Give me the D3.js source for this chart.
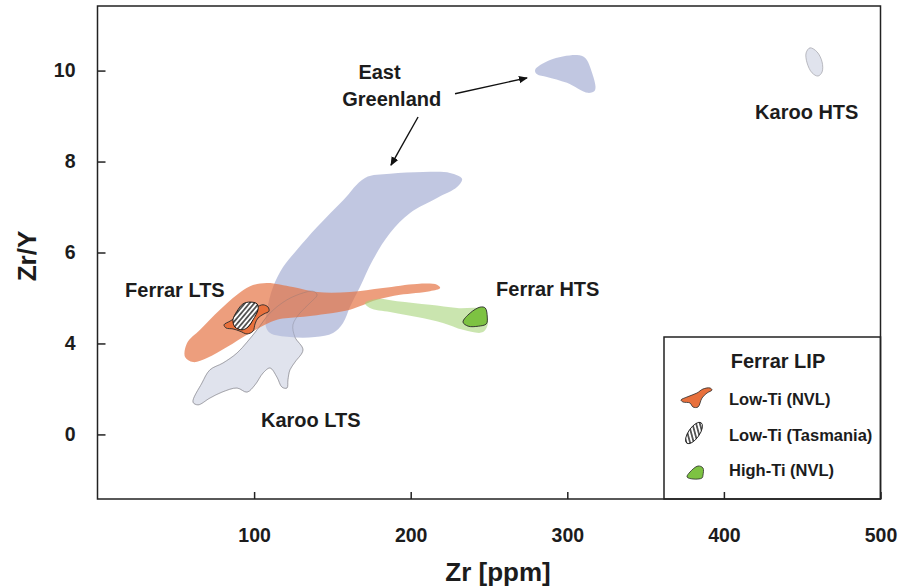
<!DOCTYPE html>
<html>
<head>
<meta charset="utf-8">
<script src="https://cdn.jsdelivr.net/npm/d3@7/dist/d3.min.js"></script>
<style>
  html, body { margin: 0; padding: 0; background: #fff; }
  svg { display: block; font-family: "Liberation Sans", Arial, Helvetica, sans-serif; }
</style>
</head>
<body>
<svg id="chart" width="898" height="588"></svg>
<script>
// Axis ticks
const xTicks = [100, 200, 300, 400, 500];
const yTicks = [2, 4, 6, 8, 10];
const yTickLabels = ["0", "4", "6", "8", "10"];

// Compositional fields, outlines as [Zr (ppm), Zr/Y]
const eastGreenlandMain = [
  [170.8, 7.64], [186.8, 7.73], [207.9, 7.77], [225.1, 7.75], [232.8, 7.62],
  [229.6, 7.44], [216.8, 7.20], [199.6, 6.87], [186.8, 6.43], [175.9, 5.84],
  [167.6, 5.24], [161.2, 4.80], [156.8, 4.45], [150.4, 4.23], [138.9, 4.14],
  [122.9, 4.14], [110.2, 4.23], [107.6, 4.36], [108.3, 4.74], [112.1, 5.24],
  [118.5, 5.68], [127.4, 6.06], [140.2, 6.56], [156.9, 7.15]
];
const eastGreenlandHigh = [
  [279.4, 10.01], [289.0, 10.23], [306.2, 10.34], [311.3, 10.28], [315.8, 9.95],
  [317.7, 9.57], [313.2, 9.51], [299.8, 9.73], [287.0, 9.86], [280.7, 9.92]
];
const karooHTS = [
  [455.0, 10.50], [459.5, 10.41], [462.7, 10.19], [462.7, 9.97], [460.1, 9.88],
  [456.3, 9.95], [453.1, 10.17], [452.5, 10.39]
];
const karooLTS = [
  [61.0, 2.71], [66.7, 3.13], [71.8, 3.42], [80.1, 3.57], [89.1, 3.79],
  [95.5, 4.03], [101.9, 4.30], [110.2, 4.67], [121.0, 4.96], [131.2, 5.11],
  [137.6, 5.15], [140.2, 5.07], [135.7, 4.89], [129.3, 4.67], [124.8, 4.41],
  [126.1, 4.14], [131.2, 3.86], [126.1, 3.59], [122.9, 3.42], [121.6, 3.20],
  [121.0, 3.02], [117.8, 3.04], [114.6, 3.26], [110.2, 3.46], [105.7, 3.35],
  [100.6, 3.09], [95.5, 2.93], [89.1, 3.02], [79.5, 2.93], [71.8, 2.80],
  [64.2, 2.65]
];
const ferrarLTS = [
  [55.9, 3.70], [57.2, 4.01], [65.5, 4.30], [78.2, 4.74], [89.1, 5.07],
  [97.4, 5.26], [108.2, 5.33], [124.8, 5.24], [140.2, 5.13], [161.2, 5.13],
  [182.3, 5.22], [204.0, 5.31], [216.8, 5.29], [218.8, 5.22], [212.3, 5.15],
  [193.2, 5.07], [178.5, 4.96], [161.2, 4.74], [150.4, 4.67], [129.3, 4.58],
  [114.6, 4.52], [97.4, 4.23], [82.7, 3.92], [69.9, 3.68], [61.0, 3.59]
];
const ferrarHTS = [
  [170.8, 4.89], [178.5, 4.98], [191.3, 4.93], [212.3, 4.85], [229.6, 4.78],
  [246.2, 4.74], [249.4, 4.47], [246.2, 4.25], [233.4, 4.30], [220.6, 4.45],
  [204.0, 4.58], [186.8, 4.69], [174.0, 4.78]
];
const lowTiNVL = [
  [80.8, 4.41], [84.6, 4.49], [89.7, 4.60], [96.1, 4.76], [101.2, 4.80],
  [105.7, 4.85], [108.9, 4.80], [109.5, 4.71], [106.3, 4.65], [102.5, 4.56],
  [100.6, 4.43], [99.3, 4.27], [95.5, 4.21], [91.0, 4.27], [86.5, 4.32],
  [82.1, 4.34]
];
const lowTiTasmania = [
  [97.4, 4.91], [101.9, 4.87], [102.5, 4.74], [99.3, 4.52], [96.1, 4.36],
  [92.3, 4.30], [87.8, 4.36], [86.5, 4.52], [89.1, 4.71], [92.9, 4.87]
];
const highTiNVL = [
  [233.4, 4.47], [238.0, 4.67], [244.4, 4.80], [247.6, 4.78], [248.9, 4.58],
  [248.3, 4.43], [243.2, 4.38], [236.7, 4.38]
];

// Field names and where they sit, [Zr, Zr/Y]
const fieldLabels = [
  { text: "East", at: [180.1, 9.81], anchor: "middle" },
  { text: "Greenland", at: [187.9, 9.22], anchor: "middle" },
  { text: "Karoo HTS", at: [419.9, 8.94], anchor: "start" },
  { text: "Ferrar LTS", at: [17.6, 5.02], anchor: "start" },
  { text: "Ferrar HTS", at: [254.5, 5.04], anchor: "start" },
  { text: "Karoo LTS", at: [104.4, 2.16], anchor: "start" }
];
// Leader arrows from the East Greenland label to its two fields
const arrows = [
  { from: [228.3, 9.49], to: [274.3, 9.84] },
  { from: [204.7, 8.98], to: [187.4, 7.92] }
];

const legendTitle = "Ferrar LIP";
const legendItems = ["Low-Ti (NVL)", "Low-Ti (Tasmania)", "High-Ti (NVL)"];

const plot = { left: 97.5, right: 880.5, top: 6, bottom: 499 };
const font = '"Liberation Sans", Arial, Helvetica, sans-serif';
const ink = "#1c1c1c";

const svg = d3.select("#chart");

const x = d3.scaleLinear().domain([0, 500]).range([plot.left, plot.right]);
const y = d3.scaleLinear().domain([0.58, 11.42]).range([plot.bottom, plot.top]);

const defs = svg.append("defs");
defs.append("pattern")
  .attr("id", "hatch")
  .attr("patternUnits", "userSpaceOnUse")
  .attr("width", 3.6).attr("height", 3.6)
  .attr("patternTransform", "rotate(40)")
  .call(p => {
    p.append("rect").attr("width", 3.6).attr("height", 3.6).attr("fill", "#fff");
    p.append("line").attr("x1", 0.9).attr("y1", 0).attr("x2", 0.9).attr("y2", 3.6)
      .attr("stroke", "#111").attr("stroke-width", 1.3);
  });
defs.append("marker")
  .attr("id", "arrowhead")
  .attr("viewBox", "0 0 10 10")
  .attr("refX", 9).attr("refY", 5)
  .attr("markerWidth", 9).attr("markerHeight", 9)
  .attr("markerUnits", "userSpaceOnUse")
  .attr("orient", "auto")
  .append("path").attr("d", "M0,0.8 L10,5 L0,9.2 Z").attr("fill", "#111");

const outline = d3.line()
  .x(d => x(d[0]))
  .y(d => y(d[1]))
  .curve(d3.curveCatmullRomClosed.alpha(0.5));

const fields = svg.append("g").attr("class", "fields");

// Karoo (background grey fields)
fields.append("path").datum(karooLTS).attr("d", outline)
  .attr("fill", "#e0e3ed").attr("stroke", "#a0a0a8").attr("stroke-width", 0.7);
fields.append("path").datum(karooHTS).attr("d", outline)
  .attr("fill", "#e0e3ed").attr("stroke", "#a0a0a8").attr("stroke-width", 0.7);

// East Greenland
fields.selectAll(".eg").data([eastGreenlandMain, eastGreenlandHigh]).join("path")
  .attr("class", "eg").attr("d", outline)
  .attr("fill", "#bac1de").attr("fill-opacity", 0.9);

// Ferrar LTS and HTS envelopes
fields.append("path").datum(ferrarLTS).attr("d", outline)
  .attr("fill", "#e5703f").attr("fill-opacity", 0.68);
fields.append("path").datum(ferrarHTS).attr("d", outline)
  .attr("fill", "#a7d37a").attr("fill-opacity", 0.6);

// Karoo LTS boundary showing through the transparent envelopes
fields.append("path").datum(karooLTS).attr("d", outline)
  .attr("fill", "none").attr("stroke", "#6f6f78").attr("stroke-width", 0.6).attr("stroke-opacity", 0.45);

// Ferrar LIP sample groups
fields.append("path").datum(lowTiNVL).attr("d", outline)
  .attr("fill", "#e8703c").attr("stroke", "#2a2a2a").attr("stroke-width", 0.9);
fields.append("path").datum(lowTiTasmania).attr("d", outline)
  .attr("fill", "url(#hatch)").attr("stroke", "#111").attr("stroke-width", 0.9);
fields.append("path").datum(highTiNVL).attr("d", outline)
  .attr("fill", "#7dc242").attr("stroke", "#2a2a2a").attr("stroke-width", 0.9);

// Field labels
svg.append("g").selectAll("text").data(fieldLabels).join("text")
  .attr("x", d => x(d.at[0])).attr("y", d => y(d.at[1]))
  .attr("text-anchor", d => d.anchor)
  .attr("font-family", font).attr("font-weight", "bold").attr("font-size", 20)
  .attr("fill", ink)
  .text(d => d.text);

svg.append("g").selectAll("line").data(arrows).join("line")
  .attr("x1", d => x(d.from[0])).attr("y1", d => y(d.from[1]))
  .attr("x2", d => x(d.to[0])).attr("y2", d => y(d.to[1]))
  .attr("stroke", "#111").attr("stroke-width", 1.4)
  .attr("marker-end", "url(#arrowhead)");

// Legend
const lg = svg.append("g").attr("transform", "translate(664,337)");
lg.append("rect").attr("width", plot.right - 664).attr("height", plot.bottom - 337)
  .attr("fill", "#fff").attr("stroke", "#222").attr("stroke-width", 1.5);
lg.append("text").attr("x", 114).attr("y", 31).attr("text-anchor", "middle")
  .attr("font-family", font).attr("font-weight", "bold").attr("font-size", 20)
  .attr("fill", ink).text(legendTitle);
lg.selectAll(".item").data(legendItems).join("text")
  .attr("class", "item")
  .attr("x", 65).attr("y", (d, i) => 68 + i * 35.5)
  .attr("font-family", font).attr("font-weight", "bold").attr("font-size", 16.5)
  .attr("fill", ink).text(d => d);

const glyph = d3.line().curve(d3.curveCatmullRomClosed.alpha(0.5));
lg.append("path")
  .attr("d", glyph([[17, 63], [23, 60], [33, 56], [39, 52], [46, 51], [48, 53], [43, 56], [38, 61], [34, 70], [29, 70], [26, 66], [19, 65]]))
  .attr("fill", "#e8703c").attr("stroke", "#2a2a2a").attr("stroke-width", 0.8);
lg.append("ellipse")
  .attr("transform", "translate(30,96) rotate(-55)")
  .attr("rx", 12.5).attr("ry", 5.5)
  .attr("fill", "url(#hatch)").attr("stroke", "#111").attr("stroke-width", 0.8);
lg.append("path")
  .attr("d", glyph([[23, 140], [26, 135], [34, 129], [39, 131], [39, 138], [38, 141], [29, 142]]))
  .attr("fill", "#7dc242").attr("stroke", "#2a2a2a").attr("stroke-width", 0.8);

// Axes with inward ticks
const xAxis = svg.append("g")
  .attr("transform", `translate(0,${plot.bottom})`)
  .call(d3.axisBottom(x).tickValues(xTicks).tickSizeInner(-7).tickSizeOuter(0).tickPadding(29));
const yAxis = svg.append("g")
  .attr("transform", `translate(${plot.left},0)`)
  .call(d3.axisLeft(y).tickValues(yTicks).tickFormat((d, i) => yTickLabels[i])
    .tickSizeInner(-8).tickSizeOuter(0).tickPadding(22));
[xAxis, yAxis].forEach(g => {
  g.select(".domain").remove();
  g.selectAll(".tick line").attr("stroke", "#222").attr("stroke-width", 1.5);
  g.selectAll(".tick text")
    .attr("font-family", font).attr("font-weight", "bold").attr("font-size", 19.5)
    .attr("fill", ink);
});

// Plot frame
svg.append("rect")
  .attr("x", plot.left).attr("y", plot.top)
  .attr("width", plot.right - plot.left).attr("height", plot.bottom - plot.top)
  .attr("fill", "none").attr("stroke", "#222").attr("stroke-width", 1.5);

// Axis titles
svg.append("text")
  .attr("x", 498).attr("y", 581).attr("text-anchor", "middle")
  .attr("font-family", font).attr("font-weight", "bold").attr("font-size", 26)
  .attr("fill", ink).text("Zr [ppm]");
svg.append("text")
  .attr("transform", "translate(36,256) rotate(-90)").attr("text-anchor", "middle")
  .attr("font-family", font).attr("font-weight", "bold").attr("font-size", 26)
  .attr("fill", ink).text("Zr/Y");
</script>
</body>
</html>
